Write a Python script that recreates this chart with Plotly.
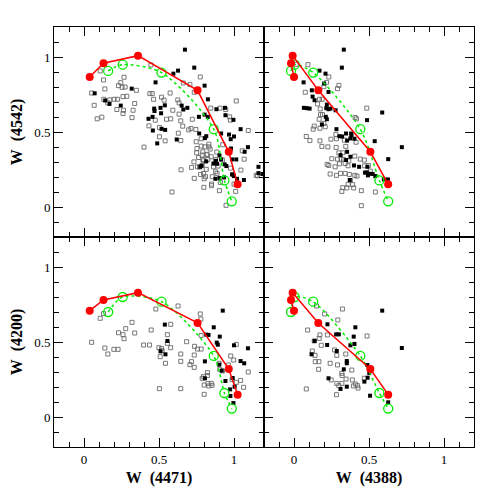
import plotly.graph_objects as go
from plotly.subplots import make_subplots

# ---------------- data ----------------
# model sequences
model_left_x = [0.038, 0.130, 0.360, 0.757, 0.965, 1.024]
model_right_x = [0.0, -0.020, -0.009, 0.162, 0.509, 0.628]
model_top_y = [0.867, 0.958, 1.009, 0.778, 0.368, 0.151]
model_bot_y = [0.709, 0.780, 0.829, 0.627, 0.320, 0.149]

alt_left_x = [0.161, 0.258, 0.517, 0.865, 0.936, 0.985]
alt_right_x = [-0.020, 0.005, 0.128, 0.442, 0.569, 0.628]
alt_top_y = [0.907, 0.949, 0.896, 0.519, 0.177, 0.038]
alt_bot_y = [0.700, 0.800, 0.769, 0.407, 0.160, 0.056]

# top-left: W(4471) vs W(4542)
tl_open = [(0.051,0.760),(0.068,0.678),(0.088,0.588),(0.119,0.599),(0.130,0.847),(0.139,0.787),(0.108,0.907),
           (0.132,0.718),(0.159,0.694),(0.172,0.714),(0.201,0.718),(0.223,0.718),(0.219,0.650),(0.230,0.809),
           (0.245,0.829),(0.254,0.798),(0.267,0.865),(0.274,0.800),(0.260,0.736),(0.285,0.738),(0.263,0.645),
           (0.260,0.623),(0.320,0.596),(0.327,0.645),(0.338,0.690),(0.349,0.778),(0.400,0.399),(0.433,0.541),
           (0.439,0.756),(0.455,0.756),(0.464,0.718),(0.446,0.947),(0.475,0.579),(0.503,0.530),(0.517,0.732),
           (0.534,0.712),(0.574,0.760),(0.503,0.468),(0.541,0.441),(0.550,0.585),(0.578,0.588),(0.592,0.645),
           (0.625,0.714),(0.634,0.694),(0.634,0.619),(0.645,0.574),(0.658,0.539),(0.629,0.492),(0.645,0.443),
           (0.647,0.248),(0.587,0.100),(0.662,0.827),(0.706,0.816),(0.698,0.514),(0.713,0.523),(0.722,0.585),
           (0.735,0.765),(0.746,0.517),(0.775,0.867),(0.717,0.264),(0.735,0.191),(0.748,0.435),(0.753,0.390),
           (0.764,0.330),(0.770,0.266),(0.781,0.455),(0.792,0.368),(0.792,0.317),(0.801,0.188),(0.797,0.224),
           (0.821,0.348),(0.826,0.317),(0.832,0.401),(0.841,0.386),(0.845,0.659),(0.850,0.142),(0.863,0.268),
           (0.876,0.317),(0.885,0.366),(0.887,0.224),(0.894,0.273),(0.903,0.109),(0.907,0.659),(0.909,0.164),
           (0.923,0.313),(0.925,0.415),(0.945,0.650),(0.947,0.011),(0.971,0.601),(0.976,0.579),(0.976,0.259),
           (0.993,0.217),(1.000,0.153),(1.011,0.104),(1.015,0.707),(1.055,0.375),(1.068,0.319),(1.046,0.246),
           (1.095,0.510),(1.148,0.211),(1.157,0.208),(0.781,0.406),(0.806,0.401),(0.832,0.419),(0.751,0.361),
           (0.788,0.346),(0.819,0.351),(0.848,0.335),(0.797,0.308),(0.733,0.301),(0.757,0.268),(0.788,0.279),
           (0.815,0.251),(0.777,0.217),(0.810,0.202),(0.855,0.202),(0.877,0.235),(0.850,0.153),(0.799,0.131)]
tl_fill = [(0.071,0.758),(0.141,0.710),(0.170,0.687),(0.245,0.676),(0.318,0.789),(0.477,0.831),(0.627,0.909),
           (0.596,0.889),(0.673,1.049),(0.735,0.929),(0.804,0.809),(0.826,0.718),(0.430,0.588),(0.468,0.656),
           (0.470,0.640),(0.510,0.661),(0.514,0.625),(0.539,0.678),(0.459,0.510),(0.488,0.424),(0.517,0.521),
           (0.541,0.514),(0.457,0.601),(0.618,0.450),(0.651,0.676),(0.662,0.650),(0.689,0.661),(0.766,0.601),
           (0.804,0.616),(0.825,0.601),(0.768,0.490),(0.806,0.459),(0.815,0.472),(0.883,0.652),(0.940,0.661),
           (0.943,0.612),(0.996,0.581),(0.914,0.490),(0.967,0.483),(0.978,0.452),(0.980,0.390),(1.000,0.470),
           (1.044,0.519),(1.071,0.368),(1.093,0.399),(0.903,0.344),(0.914,0.317),(0.879,0.308),(0.784,0.275),
           (0.775,0.268),(0.815,0.304),(0.863,0.290),(0.887,0.288),(0.938,0.284),(0.949,0.273),(0.987,0.317),
           (1.015,0.317),(0.987,0.217),(1.000,0.206),(1.020,0.188),(1.066,0.180),(0.903,0.193),(0.934,0.197),
           (0.876,0.188),(1.163,0.268),(1.163,0.226),(1.190,0.220)]

# top-right: W(4388) vs W(4542)
tr_open = [(0.093,0.949),(0.015,0.951),(0.232,0.867),(0.217,0.831),(0.199,0.802),(0.290,0.789),(0.299,0.811),
           (0.075,0.765),(0.170,0.718),(0.188,0.718),(0.157,0.687),(0.175,0.654),(0.177,0.616),(0.190,0.616),
           (0.168,0.585),(0.135,0.539),(0.128,0.519),(0.173,0.525),(0.199,0.557),(0.208,0.535),(0.082,0.470),
           (0.106,0.443),(0.173,0.441),(0.186,0.404),(0.226,0.401),(0.246,0.452),(0.283,0.455),(0.279,0.484),
           (0.336,0.446),(0.345,0.404),(0.281,0.397),(0.299,0.361),(0.325,0.361),(0.252,0.322),(0.290,0.319),
           (0.314,0.319),(0.330,0.317),(0.221,0.284),(0.232,0.277),(0.274,0.268),(0.303,0.288),(0.341,0.290),
           (0.365,0.308),(0.360,0.275),(0.405,0.339),(0.414,0.432),(0.416,0.588),(0.407,0.597),(0.485,0.659),
           (0.442,0.319),(0.471,0.275),(0.496,0.277),(0.509,0.239),(0.469,0.313),(0.241,0.220),(0.283,0.211),
           (0.310,0.224),(0.341,0.224),(0.369,0.217),(0.405,0.211),(0.420,0.206),(0.376,0.177),(0.361,0.151),
           (0.325,0.129),(0.319,0.104),(0.352,0.127),(0.398,0.127),(0.391,0.149),(0.449,0.109),(0.542,0.100),
           (0.449,0.009)]
tr_fill = [(0.170,0.909),(0.210,0.889),(0.332,1.049),(0.319,0.929),(0.064,0.831),(0.119,0.778),(0.201,0.823),
           (0.230,0.767),(0.124,0.736),(0.137,0.712),(0.219,0.683),(0.066,0.661),(0.086,0.659),(0.104,0.656),
           (0.215,0.659),(0.230,0.652),(0.243,0.656),(0.277,0.645),(0.212,0.601),(0.219,0.585),(0.186,0.550),
           (0.283,0.519),(0.303,0.472),(0.321,0.470),(0.347,0.490),(0.381,0.490),(0.383,0.479),(0.376,0.457),
           (0.403,0.455),(0.354,0.443),(0.487,0.579),(0.588,0.630),(0.719,0.399),(0.538,0.439),(0.628,0.319),
           (0.310,0.346),(0.354,0.368),(0.376,0.335),(0.400,0.277),(0.434,0.268),(0.485,0.231),(0.493,0.211),
           (0.473,0.229),(0.502,0.222),(0.524,0.220),(0.542,0.206),(0.626,0.184),(0.599,0.184),(0.489,0.268),
           (0.347,0.313),(0.372,0.180)]

# bottom-left: W(4471) vs W(4200)
bl_open = [(0.051,0.498),(0.108,0.658),(0.130,0.689),(0.139,0.460),(0.159,0.420),(0.199,0.451),(0.227,0.451),
           (0.230,0.562),(0.260,0.549),(0.267,0.522),(0.278,0.589),(0.320,0.631),(0.338,0.560),(0.397,0.480),
           (0.437,0.480),(0.448,0.580),(0.479,0.720),(0.499,0.462),(0.508,0.402),(0.517,0.456),(0.503,0.189),
           (0.521,0.442),(0.543,0.358),(0.556,0.491),(0.556,0.549),(0.578,0.618),(0.627,0.740),(0.578,0.462),
           (0.645,0.420),(0.645,0.371),(0.645,0.189),(0.684,0.502),(0.706,0.349),(0.717,0.369),(0.735,0.331),
           (0.735,0.413),(0.737,0.471),(0.757,0.453),(0.781,0.453),(0.775,0.687),(0.779,0.653),(0.781,0.544),
           (0.788,0.258),(0.797,0.269),(0.801,0.213),(0.801,0.151),(0.823,0.296),(0.823,0.276),(0.826,0.224),
           (0.832,0.207),(0.854,0.211),(0.848,0.224),(0.901,0.358),(0.905,0.318),(0.923,0.307),(0.962,0.347),
           (0.978,0.407),(0.998,0.380),(0.987,0.249),(1.015,0.484),(1.015,0.231),(1.044,0.244),(1.064,0.198),
           (1.095,0.300)]
bl_fill = [(0.539,0.616),(0.543,0.418),(0.556,0.507),(0.510,0.438),(0.806,0.371),(0.815,0.549),(0.830,0.547),
           (0.865,0.598),(0.885,0.496),(0.892,0.482),(0.905,0.536),(0.925,0.709),(0.918,0.309),(0.943,0.240),
           (0.901,0.349),(0.806,0.258),(0.974,0.184),(0.976,0.140),(0.991,0.260),(0.996,0.093),(1.000,0.478),
           (1.044,0.373),(1.068,0.358),(1.093,0.458),(1.004,0.202)]

# bottom-right: W(4388) vs W(4200)
br_open = [(0.091,0.580),(0.150,0.740),(0.204,0.687),(0.323,0.720),(0.292,0.647),(0.173,0.547),(0.168,0.524),
           (0.182,0.478),(0.223,0.547),(0.135,0.507),(0.122,0.440),(0.140,0.411),(0.142,0.369),(0.166,0.369),
           (0.164,0.318),(0.241,0.358),(0.270,0.447),(0.285,0.411),(0.290,0.347),(0.248,0.247),(0.285,0.224),
           (0.299,0.209),(0.283,0.149),(0.319,0.291),(0.321,0.276),(0.319,0.224),(0.345,0.420),(0.347,0.253),
           (0.385,0.313),(0.389,0.247),(0.396,0.207),(0.409,0.220),(0.427,0.193),(0.423,0.209),(0.487,0.540),
           (0.469,0.258),(0.082,0.187)]
br_fill = [(0.117,0.418),(0.137,0.507),(0.221,0.480),(0.223,0.618),(0.281,0.551),(0.299,0.551),(0.285,0.440),
           (0.230,0.258),(0.310,0.187),(0.332,0.318),(0.352,0.373),(0.352,0.358),(0.352,0.202),(0.376,0.478),
           (0.398,0.536),(0.409,0.598),(0.403,0.487),(0.469,0.236),(0.489,0.347),(0.491,0.262),(0.507,0.142),
           (0.588,0.709),(0.719,0.460),(0.628,0.098),(0.502,0.293)]

x_titles = {3: "W\u00a0\u00a0(4471)", 4: "W\u00a0\u00a0(4388)"}
y_titles = {1: "W\u00a0\u00a0(4542)", 3: "W\u00a0\u00a0(4200)"}
tick_vals = [0, 0.5, 1]
tick_text = ["0", "0.5", "1"]

# ---------------- figure ----------------
FONT = "Liberation Serif"
fig = make_subplots(rows=2, cols=2, horizontal_spacing=0, vertical_spacing=0)

panels = [
    (1, 1, tl_open, tl_fill, model_left_x, model_top_y, alt_left_x, alt_top_y),
    (1, 2, tr_open, tr_fill, model_right_x, model_top_y, alt_right_x, alt_top_y),
    (2, 1, bl_open, bl_fill, model_left_x, model_bot_y, alt_left_x, alt_bot_y),
    (2, 2, br_open, br_fill, model_right_x, model_bot_y, alt_right_x, alt_bot_y),
]

for r, c, op, fl, mx, my, ax, ay in panels:
    fig.add_trace(go.Scatter(x=[p[0] for p in op], y=[p[1] for p in op], mode="markers",
                             marker=dict(symbol="square-open", size=4, color="#6a6a6a",
                                         line=dict(width=0.9, color="#6a6a6a")),
                             showlegend=False), row=r, col=c)
    fig.add_trace(go.Scatter(x=[p[0] for p in fl], y=[p[1] for p in fl], mode="markers",
                             marker=dict(symbol="square", size=4, color="black"),
                             showlegend=False), row=r, col=c)
    fig.add_trace(go.Scatter(x=ax, y=ay, mode="lines+markers",
                             line=dict(color="#00ee00", width=1.5, dash="dot", shape="spline", smoothing=0.8),
                             marker=dict(symbol="circle-open", size=9, color="#00ee00",
                                         line=dict(width=1.3, color="#00ee00")),
                             showlegend=False), row=r, col=c)
    fig.add_trace(go.Scatter(x=mx, y=my, mode="lines+markers",
                             line=dict(color="red", width=1.5),
                             marker=dict(symbol="circle", size=8, color="red"),
                             showlegend=False), row=r, col=c)

axis_common = dict(range=[-0.2, 1.2], tickvals=tick_vals, ticktext=tick_text,
                   ticks="inside", ticklen=9, tickwidth=1, tickcolor="black",
                   minor=dict(dtick=0.1, tick0=0, ticks="inside", ticklen=5, tickwidth=1, tickcolor="black"),
                   showline=True, linecolor="black", linewidth=1, mirror="allticks",
                   showgrid=False, zeroline=False,
                   tickfont=dict(family=FONT, size=13, color="black"))

for i in range(1, 5):
    r = 1 if i <= 2 else 2
    c = 1 if i in (1, 3) else 2
    xa = dict(axis_common)
    ya = dict(axis_common)
    xa["showticklabels"] = (r == 2)
    ya["showticklabels"] = (c == 1)
    if i in x_titles:
        xa["title"] = dict(text="<b>" + x_titles[i] + "</b>",
                           font=dict(family=FONT, size=16, color="black"), standoff=6)
    if i in y_titles:
        ya["title"] = dict(text="<b>" + y_titles[i] + "</b>",
                           font=dict(family=FONT, size=16, color="black"), standoff=8)
    fig.update_xaxes(row=r, col=c, **xa)
    fig.update_yaxes(row=r, col=c, **ya)

# page body adds an 8px margin; compensate so plot frame lands at 54..474 / 27..447
fig.update_layout(width=493, height=493, margin=dict(l=46, r=27, t=19, b=54, autoexpand=False),
                  paper_bgcolor="white", plot_bgcolor="white", showlegend=False)

fig.write_html("out.html")
